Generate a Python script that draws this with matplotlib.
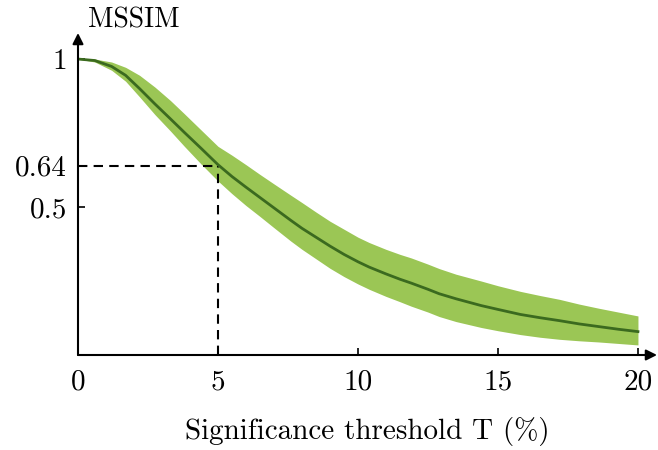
import numpy as np
import matplotlib
matplotlib.use('Agg')
import matplotlib.pyplot as plt

# LaTeX 風のフォント
plt.rcParams['font.family'] = 'serif'
plt.rcParams['font.serif'] = ['cmr10', 'DejaVu Serif']
plt.rcParams['mathtext.fontset'] = 'cm'
plt.rcParams['axes.formatter.use_mathtext'] = True

# 画像から読み取った値
threshold = [0, 0.6, 1.2, 1.7, 2.2, 2.75, 3.3, 3.8, 4.4, 5.0, 5.5, 6.0, 6.5, 7.0,
             7.6, 8.0, 8.5, 9.0, 9.5, 10.0, 10.4, 11.0, 11.5, 11.9, 12.5, 12.9,
             13.5, 14.4, 15.0, 15.8, 16.5, 17.2, 17.9, 18.6, 19.3, 20.0]
mssim_mean = [1.0, 0.995, 0.975, 0.945, 0.900, 0.848, 0.798, 0.752, 0.698, 0.643,
              0.603, 0.567, 0.532, 0.497, 0.455, 0.428, 0.398, 0.368, 0.340, 0.315,
              0.297, 0.274, 0.256, 0.243, 0.222, 0.207, 0.190, 0.167, 0.154, 0.137,
              0.126, 0.116, 0.105, 0.096, 0.087, 0.079]
mssim_upper = [1.0, 1.0, 0.990, 0.972, 0.945, 0.905, 0.860, 0.815, 0.760, 0.705,
               0.675, 0.643, 0.610, 0.578, 0.540, 0.515, 0.483, 0.452, 0.425, 0.398,
               0.380, 0.357, 0.340, 0.328, 0.307, 0.292, 0.273, 0.250, 0.234, 0.215,
               0.201, 0.188, 0.172, 0.158, 0.145, 0.132]
mssim_lower = [1.0, 0.990, 0.962, 0.925, 0.872, 0.812, 0.757, 0.705, 0.645, 0.588,
               0.545, 0.505, 0.468, 0.430, 0.385, 0.357, 0.325, 0.293, 0.265, 0.240,
               0.222, 0.198, 0.180, 0.165, 0.145, 0.130, 0.113, 0.093, 0.082, 0.069,
               0.060, 0.053, 0.048, 0.044, 0.039, 0.034]

x_ticks = [0, 5, 10, 15, 20]
y_ticks = [0.5, 0.64, 1]
y_ticklabels = ['0.5', '0.64', '1']
marked_t = 5
marked_v = 0.64

fig = plt.figure(figsize=(6.58, 4.5), dpi=100)
ax = fig.add_axes([78 / 658, 95 / 450, 579 / 658, 322 / 450])

ax.fill_between(threshold, mssim_lower, mssim_upper, color='#9bc655', lw=0, zorder=1)
ax.plot([0, marked_t], [marked_v, marked_v], color='black', lw=1.5,
        dashes=(4.5, 3), zorder=2)
ax.plot([marked_t, marked_t], [0, marked_v], color='black', lw=1.5,
        dashes=(4.5, 3), zorder=2)
ax.plot(threshold, mssim_mean, color='#3b6a1f', lw=2, zorder=3)

ax.set_xlim(0, 20.68)
ax.set_ylim(0, 1.088)

# 軸 (矢印付き)
for s in ax.spines.values():
    s.set_visible(False)
arrow = dict(arrowstyle='-|>', color='black', lw=1.5, mutation_scale=16,
             shrinkA=0, shrinkB=0)
ax.annotate('', xy=(1.0, 0), xytext=(0, 0), xycoords='axes fraction',
            arrowprops=arrow, zorder=5)
ax.annotate('', xy=(0, 1.0), xytext=(0, 0), xycoords='axes fraction',
            arrowprops=arrow, zorder=5)

ax.set_xticks(x_ticks)
ax.set_xticklabels([str(t) for t in x_ticks])
ax.set_yticks(y_ticks)
ax.set_yticklabels(y_ticklabels)
ax.tick_params(direction='in', length=5, width=1.2, labelsize=21)
ax.tick_params(axis='x', pad=10)
ax.tick_params(axis='y', pad=8)

ax.text(0.017, 1.04, 'MSSIM', transform=ax.transAxes, fontsize=20,
        ha='left', va='center')
fig.text(367 / 658, 1 - 432 / 450, 'Significance threshold T (%)', fontsize=21,
         ha='center', va='center')

plt.savefig('out.png', dpi=100, facecolor='white')
